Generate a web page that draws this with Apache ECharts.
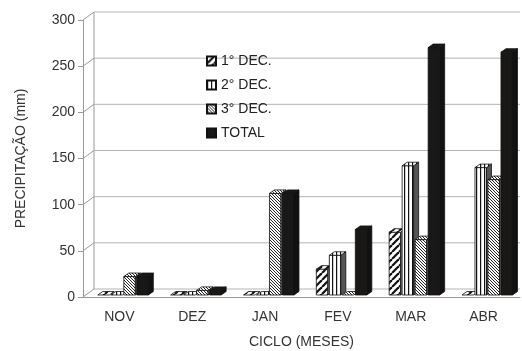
<!DOCTYPE html>
<html><head><meta charset="utf-8">
<script src="https://cdn.jsdelivr.net/npm/echarts@6/dist/echarts.min.js"></script>
<style>html,body{margin:0;padding:0;background:#fff}#c{width:522px;height:351px}</style>
</head><body><div id="c"></div>
<script>
const categories = ['NOV','DEZ','JAN','FEV','MAR','ABR'];
const dec1 = [0, 0, 0, 28, 68, 0];
const dec2 = [0, 0, 0, 43, 140, 138];
const dec3 = [20, 5, 110, 0, 60, 125];
const total = [20, 5, 110, 71, 268, 263];
const yTicks = [0, 50, 100, 150, 200, 250, 300];
const seriesNames = ['1° DEC.', '2° DEC.', '3° DEC.', 'TOTAL'];
const seriesValues = [dec1, dec2, dec3, total];

function makePattern(kind){
  const c = document.createElement('canvas');
  const ctx = c.getContext('2d');
  if(kind === 'diagThick'){
    c.width = 7; c.height = 7;
    ctx.fillStyle = '#fff'; ctx.fillRect(0,0,7,7);
    ctx.strokeStyle = '#111'; ctx.lineWidth = 2.2;
    for(let o=-7;o<=14;o+=7){ctx.beginPath();ctx.moveTo(o,7);ctx.lineTo(o+7,0);ctx.stroke();}
  } else if(kind === 'vert'){
    c.width = 4; c.height = 4;
    ctx.fillStyle = '#fff'; ctx.fillRect(0,0,4,4);
    ctx.fillStyle = '#111'; ctx.fillRect(0,0,1.2,4);
  } else if(kind === 'diagFine'){
    c.width = 3; c.height = 3;
    ctx.fillStyle = '#fff'; ctx.fillRect(0,0,3,3);
    ctx.strokeStyle = '#222'; ctx.lineWidth = 1;
    for(let o=-3;o<=6;o+=3){ctx.beginPath();ctx.moveTo(o,0);ctx.lineTo(o+3,3);ctx.stroke();}
  }
  return {image: c, repeat: 'repeat'};
}
const fills = [makePattern('diagThick'), makePattern('vert'), makePattern('diagFine'), '#1a1816'];
const sideFills = ['#777', '#555', '#666', '#111'];

const FONT = '"Liberation Sans", Arial, sans-serif';
const DX = 11, DY = 8;      // back wall offset
const BDX = 5, BDY = 3.5;   // bar depth
const BW = 11.5, BSTEP = 13;

function wallItem(params, api){
  const cs = params.coordSys;
  const v = api.value(0);
  const p = api.coord([0, v]);
  const y = p[1];
  const x0 = cs.x;
  const children = [
    {type:'line', shape:{x1:x0+DX, y1:y-DY, x2:cs.x+cs.width, y2:y-DY}, style:{stroke:'#b4b4b4', lineWidth:1}},
    {type:'line', shape:{x1:x0, y1:y, x2:x0+DX, y2:y-DY}, style:{stroke:'#9a9a9a', lineWidth:1}}
  ];
  if(params.dataIndex === 0){
    const top = api.coord([0, yTicks[yTicks.length-1]])[1];
    children.push({type:'line', shape:{x1:x0+DX, y1:top-DY, x2:x0+DX, y2:y-DY}, style:{stroke:'#9a9a9a', lineWidth:1}});
  }
  return {type:'group', children};
}

function barItemFactory(s){
  return function(params, api){
    const ci = api.value(0);
    const v = api.value(1);
    const center = api.coord([ci, 0])[0];
    const yb = api.coord([ci, 0])[1] - 2;
    const yt = api.coord([ci, v])[1] - 2;
    const xl = center - 21.6 + BSTEP * s;
    const xr = xl + BW;
    const stroke = {stroke:'#111', lineWidth:0.8};
    const children = [];
    if(yb - yt > 0.5){
      children.push({type:'rect', shape:{x:xl, y:yt, width:BW, height:yb-yt}, style:Object.assign({fill:fills[s]}, stroke)});
      children.push({type:'polygon', shape:{points:[[xr,yt],[xr+BDX,yt-BDY],[xr+BDX,yb-BDY],[xr,yb]]}, style:Object.assign({fill:sideFills[s]}, stroke)});
    }
    children.push({type:'polygon', shape:{points:[[xl,yt],[xl+BDX,yt-BDY],[xr+BDX,yt-BDY],[xr,yt]]}, style:Object.assign({fill:s===3?'#1a1816':fills[s]}, stroke)});
    return {type:'group', children};
  };
}

const series = [{
  type:'custom', name:'_wall', silent:true, z:1, clip:false,
  data: yTicks.map(v => [v]),
  encode:{y:0},
  renderItem: wallItem
}];
seriesValues.forEach((vals, s) => {
  series.push({
    type:'custom', name: seriesNames[s], z: 2 + s, clip:false,
    itemStyle:{color: fills[s], borderColor:'#111', borderWidth:0.8},
    data: vals.map((v, i) => [i, v]),
    encode:{x:0, y:1},
    renderItem: barItemFactory(s)
  });
});

const chart = echarts.init(document.getElementById('c'), null, {renderer:'canvas'});
chart.setOption({
  animation:false,
  backgroundColor:'#fff',
  grid:{left:83, right:2, top:20, bottom:54, containLabel:false, outerBoundsMode:'none'},
  legend:{
    data: seriesNames, orient:'vertical', left:201, top:49,
    itemWidth:9, itemHeight:9, itemGap:10, icon:'rect',
    textStyle:{fontFamily:FONT, fontSize:14, color:'#222', lineHeight:14}
  },
  xAxis:{
    type:'category', data:categories, boundaryGap:true,
    axisLine:{lineStyle:{color:'#9a9a9a', width:1}},
    axisTick:{length:5, lineStyle:{color:'#9a9a9a'}},
    axisLabel:{fontFamily:FONT, fontSize:14, color:'#333', margin:13},
    name:'CICLO (MESES)', nameLocation:'middle', nameGap:38,
    nameTextStyle:{fontFamily:FONT, fontSize:14, color:'#333'}
  },
  yAxis:{
    type:'value', min:0, max:300, interval:50,
    axisLine:{show:true, lineStyle:{color:'#9a9a9a', width:1}},
    axisTick:{show:true, length:5, lineStyle:{color:'#9a9a9a'}},
    splitLine:{show:false},
    axisLabel:{fontFamily:FONT, fontSize:14, color:'#333', margin:8},
    name:'PRECIPITAÇÃO (mm)', nameLocation:'middle', nameGap:55,
    nameTextStyle:{fontFamily:FONT, fontSize:14, color:'#333'}
  },
  series
});
</script></body></html>
